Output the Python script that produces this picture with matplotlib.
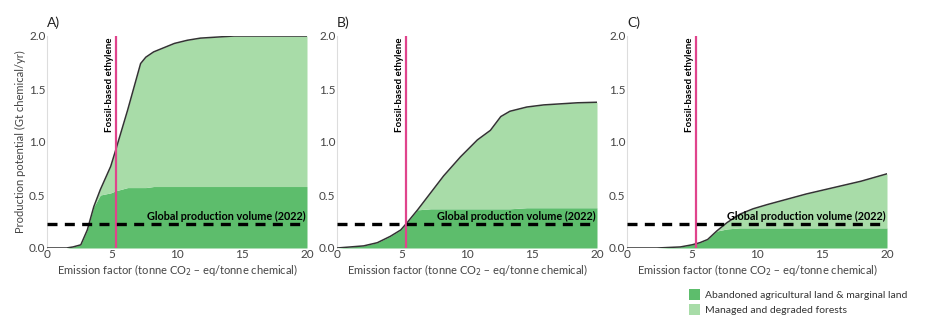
import numpy as np
import matplotlib.pyplot as plt
from matplotlib.patches import Patch

# emission factor grid points (tonne CO2-eq / tonne chemical) and production potential (Gt/yr)
ef_a = [0, 1.5, 2.0, 2.6, 3.1, 3.6, 4.1, 4.9, 5.3, 6.2, 7.2, 7.6, 8.2, 8.8, 9.8, 10.8, 11.8, 14.4, 17.0, 20.0]
total_a = [0, 0, 0.01, 0.03, 0.17, 0.39, 0.55, 0.77, 0.93, 1.30, 1.74, 1.80, 1.85, 1.88, 1.93, 1.96, 1.98, 2.0, 2.0, 2.0]
aband_a = [0, 0, 0.01, 0.03, 0.17, 0.39, 0.50, 0.52, 0.54, 0.57, 0.57, 0.57, 0.58, 0.58, 0.58, 0.58, 0.58, 0.58, 0.58, 0.58]

ef_b = [0, 2.05, 3.1, 4.1, 4.9, 5.4, 6.2, 7.2, 8.2, 9.5, 10.8, 11.8, 12.6, 13.3, 14.6, 15.9, 18.5, 20.0]
total_b = [0.0, 0.02, 0.05, 0.11, 0.17, 0.24, 0.36, 0.52, 0.68, 0.86, 1.02, 1.11, 1.24, 1.29, 1.33, 1.35, 1.37, 1.375]
aband_b = [0.0, 0.02, 0.05, 0.11, 0.17, 0.24, 0.36, 0.37, 0.37, 0.37, 0.37, 0.37, 0.37, 0.37, 0.38, 0.38, 0.38, 0.38]

ef_c = [0, 2.3, 4.1, 5.0, 5.6, 6.2, 6.9, 7.7, 8.7, 9.7, 10.8, 12.3, 13.8, 15.9, 18.0, 20.0]
total_c = [0, 0, 0.01, 0.03, 0.05, 0.08, 0.16, 0.24, 0.32, 0.37, 0.41, 0.46, 0.51, 0.57, 0.63, 0.70]
aband_c = [0, 0, 0.01, 0.03, 0.05, 0.08, 0.16, 0.18, 0.19, 0.19, 0.19, 0.19, 0.19, 0.19, 0.19, 0.19]

panels = [("A)", ef_a, total_a, aband_a),
          ("B)", ef_b, total_b, aband_b),
          ("C)", ef_c, total_c, aband_c)]

fossil_ethylene = 5.3
global_volume = 0.23

dark = "#5dbd6c"
light = "#a8dca8"
pink = "#e0448c"
grey = "#444444"

plt.rcParams['font.family'] = ['Lato', 'DejaVu Sans']

fig = plt.figure(figsize=(9.3, 3.21), dpi=100)
lefts = [47, 337, 627]

for i, (title, ef, total, aband) in enumerate(panels):
    ax = fig.add_axes([lefts[i] / 930, 73 / 321, 260 / 930, 212 / 321])
    ef = np.array(ef)
    total = np.array(total)
    aband = np.array(aband)
    ax.fill_between(ef, 0, aband, color=dark, lw=0, zorder=1)
    ax.fill_between(ef, aband, total, color=light, lw=0, zorder=1)
    ax.plot(ef, total, color="#333333", lw=1.1, zorder=3)

    ax.axvline(fossil_ethylene, color=pink, lw=1.6, zorder=4)
    ax.text(fossil_ethylene - 0.15, 1.99, "Fossil-based ethylene", rotation=90,
            ha="right", va="top", fontsize=7, fontweight="bold", zorder=5)

    ax.axhline(global_volume, color="black", lw=2.4, ls=(0, (3, 2.2)), zorder=4)
    ax.text(19.9, global_volume + 0.015, "Global production volume (2022)",
            ha="right", va="bottom", fontsize=7.8, fontweight="bold", zorder=5)

    ax.set_xlim(0, 20)
    ax.set_ylim(0, 2.0)
    ax.set_xticks([0, 5, 10, 15, 20])
    ax.set_yticks([0, 0.5, 1.0, 1.5, 2.0])
    ax.set_yticklabels(["0.0", "0.5", "1.0", "1.5", "2.0"])
    ax.tick_params(length=0, labelsize=8.5, colors=grey, pad=1)
    for s in ["top", "right", "bottom"]:
        ax.spines[s].set_visible(False)
    ax.spines["left"].set_color("#dddddd")
    ax.spines["left"].set_linewidth(0.8)
    ax.set_xlabel("Emission factor (tonne CO$_2$ – eq/tonne chemical)",
                  fontsize=8, color=grey, labelpad=1)
    ax.text(0.0, 1.035, title, transform=ax.transAxes, fontsize=10,
            color="#222222", ha="left", va="bottom")
    if i == 0:
        ax.set_ylabel("Production potential (Gt chemical/yr)", fontsize=8,
                      color=grey, labelpad=2)

handles = [Patch(facecolor=dark, edgecolor="none",
                 label="Abandoned agricultural land & marginal land"),
           Patch(facecolor=light, edgecolor="none",
                 label="Managed and degraded forests")]
fig.legend(handles=handles, loc="lower left", bbox_to_anchor=(683 / 930, 0.0),
           frameon=False, fontsize=7.5, handlelength=1.0, handleheight=1.2,
           handletextpad=0.5, labelspacing=0.35, borderaxespad=0.2,
           labelcolor="#333333")

fig.savefig("out.png", dpi=100)
